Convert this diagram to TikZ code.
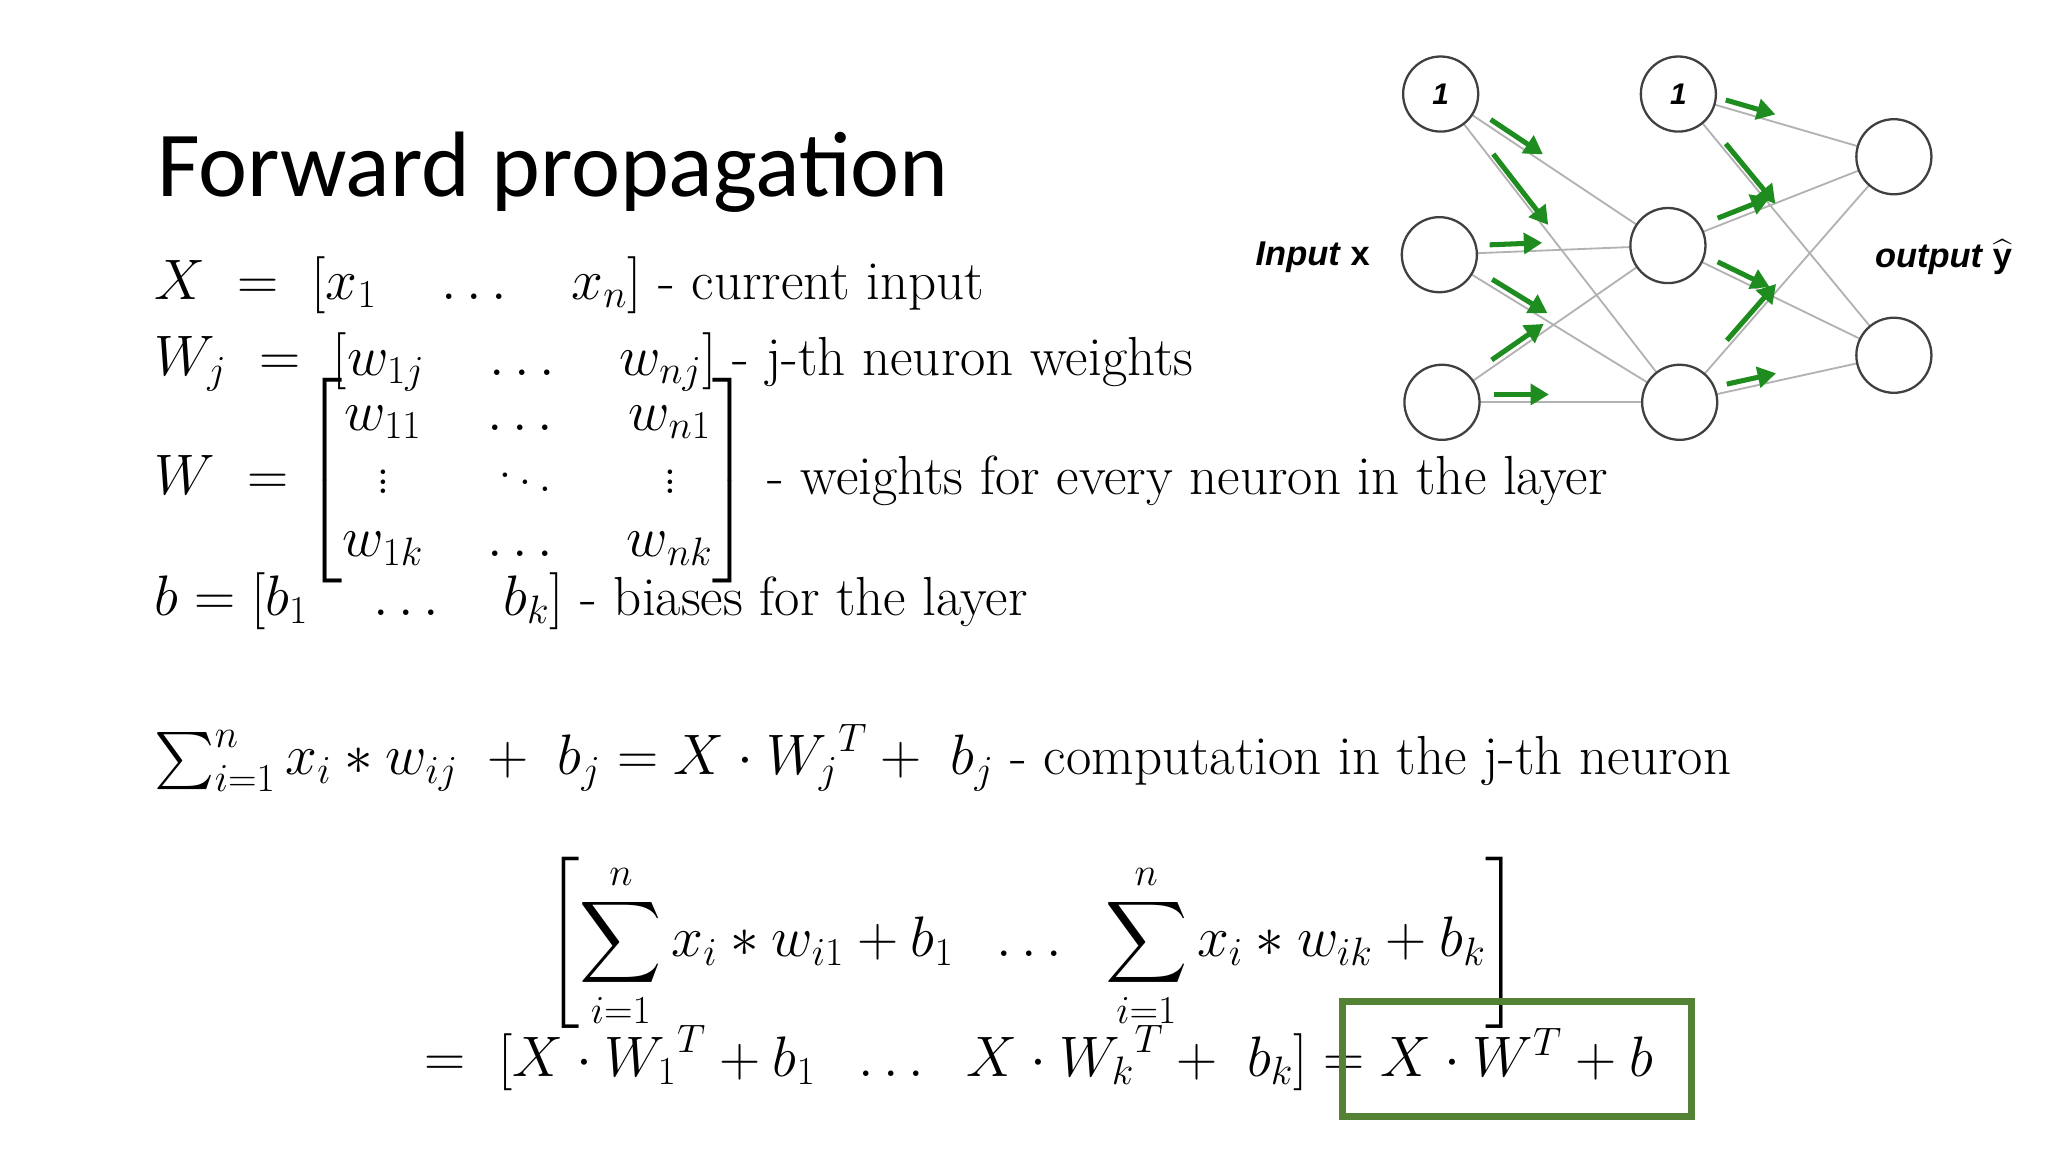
\documentclass[tikz,border=0pt]{standalone}
\usepackage{amsmath}
\usepackage{fontspec}
\newfontfamily\titlefont{Carlito}
\newfontfamily\labfont{Liberation Sans}
\usetikzlibrary{arrows.meta,calc}
\definecolor{boxgreen}{RGB}{84,130,53}
\definecolor{arrgreen}{RGB}{30,140,30}
\newcommand{\dd}{\quad\dots\quad}
\tikzset{
 neuron/.style={circle,draw=black!75,line width=1pt,minimum size=1.15cm,inner sep=0pt,fill=white,font=\labfont\itshape\bfseries\fontsize{13}{15}\selectfont},
 link/.style={draw=black!30,line width=0.8pt},
 garrow/.style={draw=arrgreen,line width=2.2pt,-{Triangle[length=8pt,width=9pt]}},
 eq/.style={anchor=west,inner sep=0pt,font=\fontsize{24}{29}\selectfont},
 lab/.style={font=\labfont\itshape\bfseries\fontsize{15}{18}\selectfont}
}
\begin{document}
\begin{tikzpicture}[x=0.02cm,y=-0.02cm]
\useasboundingbox (0,0) rectangle (1568,882);
\node[anchor=west,inner sep=0pt,font=\titlefont\fontsize{40.5}{46}\selectfont] (title) at (120,132) {Forward propagation};
% network coordinates
\coordinate (b1) at (1103,72);
\coordinate (b2) at (1285,72);
\coordinate (i1) at (1102,195);
\coordinate (i2) at (1104,308);
\coordinate (h1) at (1277,188);
\coordinate (h2) at (1286,308);
\coordinate (o1) at (1450,120);
\coordinate (o2) at (1450,272);
\foreach \s in {b1,i1,i2} \foreach \t in {h1,h2} {\draw[link] (\s) -- (\t);}
\foreach \s in {b2,h1,h2} \foreach \t in {o1,o2} {\draw[link] (\s) -- (\t);}
\foreach \s in {b1,i1,i2} \foreach \t in {h1,h2} {
  \draw[garrow] ($(\s)!0.22!(\t)+(0,-6)$) -- ($(\s)!0.45!(\t)+(0,-6)$);}
\foreach \s in {b2,h1,h2} \foreach \t in {o1,o2} {
  \draw[garrow] ($(\s)!0.22!(\t)+(0,-6)$) -- ($(\s)!0.45!(\t)+(0,-6)$);}
\node[neuron] (nb1) at (b1) {1};
\node[neuron] (nb2) at (b2) {1};
\node[neuron] (ni1) at (i1) {};
\node[neuron] (ni2) at (i2) {};
\node[neuron] (nh1) at (h1) {};
\node[neuron] (nh2) at (h2) {};
\node[neuron] (no1) at (o1) {};
\node[neuron] (no2) at (o2) {};
\node[lab] (inl) at (1005,197) {Input \textup{x}};
\node[lab] (outl) at (1488,197) {output \textup{$\widehat{\mbox{y}}$}};
% equations
\node[eq] (e1) at (118,218) {$X\ =\ [x_1\dd x_n]$ - current input};
\node[eq] (e2) at (118,277) {$W_j\ =\ [w_{1j}\dd w_{nj}]$ - j-th neuron weights};
\node[eq] (e3) at (118,368) {$W\ =\left[\renewcommand\arraystretch{0.95}\setlength\arraycolsep{14pt}\begin{matrix} w_{11} & \dots & w_{n1}\\ \vdots & \ddots & \vdots\\ w_{1k} & \dots & w_{nk}\end{matrix}\right]$ - weights for every neuron in the layer};
\node[eq] (e4) at (118,460) {$b=[b_1\dd b_k]$ - biases for the layer};
\node[eq] (e5) at (118,580) {$\sum_{i=1}^{n} x_i * w_{ij}\ +\ b_j = X\cdot {W_j}^T +\ b_j$ - computation in the j-th neuron};
\node[eq] (e6) at (418,722) {$\left[\displaystyle\sum_{i=1}^{n} x_i*w_{i1}+b_1\ \ \dots\ \ \sum_{i=1}^{n} x_i*w_{ik}+b_k\right]$};
\node[eq] (e7) at (325,810) {$=\ [X\cdot {W_1}^T+b_1\ \ \dots\ \ X\cdot {W_k}^T+\ b_k] = X\cdot W^T+b$};
\draw[boxgreen,line width=3pt] (1028,767) rectangle (1295,855);
\end{tikzpicture}
\end{document}
